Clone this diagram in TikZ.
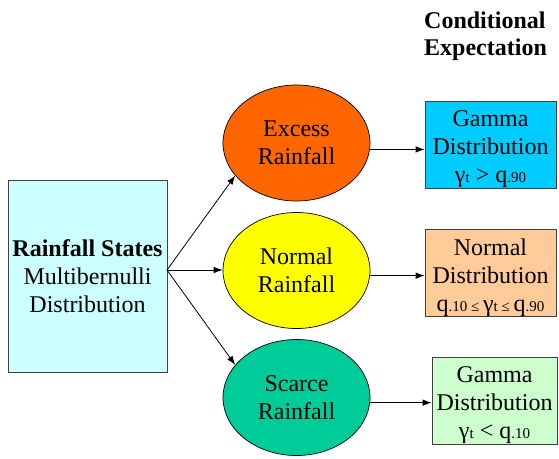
\documentclass[tikz,border=0pt]{standalone}
\usepackage{fontspec}
\setmainfont{Liberation Serif}
\usetikzlibrary{shapes.geometric,arrows.meta}

\definecolor{statefill}{HTML}{CCFFFF}
\definecolor{excessfill}{HTML}{FF6600}
\definecolor{normalfill}{HTML}{FFFF00}
\definecolor{scarcefill}{HTML}{00CC99}
\definecolor{gammaHi}{HTML}{00CCFF}
\definecolor{normalbox}{HTML}{FFCC99}
\definecolor{gammaLo}{HTML}{CCFFCC}
\definecolor{boxline}{HTML}{404040}

% smaller text for subscripts and relations in the third line
\newcommand{\sm}[1]{{\fontsize{15}{15}\selectfont #1}}
% raises the first line's height so the text block sits a little lower
\newcommand{\toppad}{\rule{0pt}{26pt}}

\tikzset{
  txt/.style={font=\fontsize{24}{28}\selectfont, align=center, inner sep=0pt},
  statebox/.style={txt, draw=boxline, line width=0.8pt, rectangle,
    minimum width=159pt, minimum height=192pt},
  rainnode/.style={txt, draw=black, line width=0.7pt, ellipse,
    minimum width=147pt, minimum height=116pt},
  distbox/.style={txt, draw=boxline, line width=0.8pt, rectangle, minimum height=78pt},
  arr/.style={draw=black, line width=0.8pt, -{Latex[length=9pt,width=6.5pt]}},
}

\begin{document}
\begin{tikzpicture}[x=1pt,y=-1pt]
  \useasboundingbox (0,0) rectangle (559,458);

  % heading
  \node[txt, align=left, anchor=north west, font=\fontsize{24}{27}\selectfont\bfseries]
    (head) at (424,12) {Conditional\\Expectation};

  % source state box
  \node[statebox, fill=statefill] (src) at (87.5,276)
    {\textbf{Rainfall States}\\Multibernulli\\Distribution};
  \coordinate (fork) at (167,270);

  % rainfall states
  \node[rainnode, fill=excessfill] (ex) at (296.5,143) {Excess\\Rainfall};
  \node[rainnode, fill=normalfill] (nm) at (296.5,270.5) {Normal\\Rainfall};
  \node[rainnode, fill=scarcefill] (sc) at (296.5,397.5) {Scarce\\Rainfall};

  % conditional distributions
  \node[distbox, fill=gammaHi, minimum width=131pt, minimum height=77pt] (g1) at (490.5,144.5)
    {\toppad Gamma\\Distribution\\γ\sm{t} > q\sm{.90}};
  \node[distbox, fill=normalbox, minimum width=131pt, minimum height=80pt] (nd) at (490.5,273)
    {\toppad Normal\\Distribution\\q\sm{.10 ≤ }γ\sm{t ≤ }q\sm{.90}};
  \node[distbox, fill=gammaLo, minimum width=125pt, minimum height=79pt] (g2) at (494.5,400.5)
    {\toppad Gamma\\Distribution\\γ\sm{t} < q\sm{.10}};

  % fan-out from the state box
  \draw[arr] (fork) -- (ex.208);
  \draw[arr] (fork) -- (fork -| nm.west);
  \draw[arr] (fork) -- (sc.152);

  % state to distribution
  \draw[arr] (ex.-5) -- (ex.-5 -| g1.west);
  \draw[arr] (nm.-4) -- (nm.-4 -| nd.west);
  \draw[arr] (sc.-4) -- (sc.-4 -| g2.west);
\end{tikzpicture}
\end{document}
